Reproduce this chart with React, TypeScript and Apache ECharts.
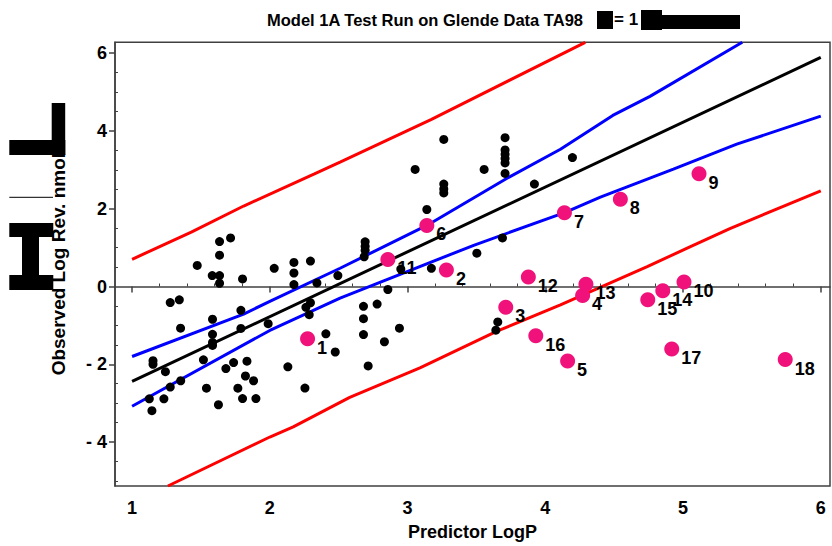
import React, { useEffect, useRef } from "react";
import * as echarts from "echarts";

// ---- axis ranges & ticks ----
const X_MIN = 0.876;
const X_MAX = 6.067;
const Y_MIN = -5.13;
const Y_MAX = 6.28;
const xTicks = [1, 2, 3, 4, 5, 6];
const xMinorTicks = [1.2, 1.4, 1.6, 1.8, 2.2, 2.4, 2.6, 2.8, 3.2, 3.4, 3.6, 3.8, 4.2, 4.4, 4.6, 4.8, 5.2, 5.4, 5.6, 5.8];
const yTicks = [-4, -2, 0, 2, 4, 6];
const yMinorTicks = [-5, -4.5, -3.5, -3, -2.5, -1.5, -1, -0.5, 0.5, 1, 1.5, 2.5, 3, 3.5, 4.5, 5, 5.5];

// ---- training compounds (black) ----
const blackX = [
  1.277, 1.343, 1.473, 1.582, 1.635, 1.635, 1.635, 1.635, 1.715, 1.802,
  1.790, 2.032, 2.175, 2.175, 2.175, 2.295, 2.342, 2.494, 2.262, 2.295,
  2.286, 1.352, 1.584, 1.584, 1.584, 1.584, 1.790, 1.988, 2.407, 2.475,
  1.152, 1.152, 1.242, 1.125, 1.144, 1.231, 1.277, 1.353, 1.518, 1.540,
  1.627, 1.681, 1.737, 1.768, 1.802, 1.823, 1.834, 1.882, 1.899, 2.131,
  2.255, 3.263, 3.055, 3.556, 3.708, 3.708, 3.708, 3.708, 3.708, 3.708,
  4.197, 3.263, 3.263, 3.263, 3.921, 3.140, 2.692, 2.692, 2.692, 2.685,
  2.951, 3.173, 3.689, 3.503, 2.857, 2.680, 2.680, 2.680, 2.779, 2.941,
  2.832, 2.714, 3.655, 3.641,
];
const blackY = [
  -0.413, -0.342, 0.543, 0.281, 0.281, 0.084, 0.806, 1.156, 1.25, 0.194,
  -0.612, 0.467, 0.620, 0.347, 0.051, 0.653, 0.092, 0.281, -0.536, -0.418,
  -0.724, -1.071, -0.842, -1.230, -1.439, -1.515, -1.077, -0.957, -1.217, -1.684,
  -1.906, -2.0, -2.191, -2.888, -3.194, -2.888, -2.587, -2.423, -1.885, -2.615,
  -3.041, -2.110, -1.957, -2.615, -2.883, -2.301, -1.921, -2.423, -2.883, -2.066,
  -2.612, 3.783, 3.010, 3.010, 3.827, 3.510, 3.401, 3.291, 3.179, 2.908,
  3.316, 2.635, 2.508, 2.406, 2.635, 1.980, 1.148, 1.036, 0.934, 0.765,
  0.449, 0.467, 1.25, 0.857, -0.077, -0.510, -0.827, -1.235, -0.452, -1.071,
  -1.421, -2.041, -0.911, -1.122,
];

// ---- test compounds (pink, numbered) ----
const testIds = ["1", "2", "3", "4", "5", "6", "7", "8", "9", "10", "11", "12", "13", "14", "15", "16", "17", "18"];
const testX = [2.274, 3.282, 3.713, 4.271, 4.162, 3.140, 4.139, 4.545, 5.116, 5.007, 2.857, 3.877, 4.295, 4.853, 4.744, 3.931, 4.918, 5.742];
const testY = [-1.344, 0.423, -0.536, -0.230, -1.918, 1.571, 1.895, 2.245, 2.898, 0.117, 0.696, 0.245, 0.059, -0.112, -0.342, -1.268, -1.607, -1.880];

// ---- regression line and bands ----
const regX = [1, 6];
const regY = [-2.44, 5.89];
const confUpX = [1.0, 1.81, 2.0, 2.51, 3.14, 3.71, 4.11, 4.49, 4.76, 5.43];
const confUpY = [-1.80, -0.71, -0.38, 0.47, 1.57, 2.76, 3.53, 4.40, 4.89, 6.28];
const confLoX = [1.0, 2.0, 2.51, 3.48, 4.14, 4.40, 4.93, 5.39, 6.0];
const confLoY = [-3.08, -1.13, -0.30, 1.06, 1.90, 2.30, 3.02, 3.66, 4.38];
const predUpX = [1.0, 1.43, 1.81, 2.32, 2.51, 3.17, 4.29];
const predUpY = [0.70, 1.40, 2.07, 2.89, 3.20, 4.29, 6.28];
const predLoX = [1.26, 2.0, 2.17, 2.58, 3.09, 3.65, 4.11, 4.74, 5.05, 5.34, 6.0];
const predLoY = [-5.13, -3.87, -3.61, -2.85, -2.09, -1.15, -0.47, 0.51, 1.02, 1.49, 2.46];

const FONT = '"Liberation Sans", Arial, sans-serif';
const AXIS_COLOR = "#404040";
const TEXT_COLOR = "#000000";

const zip = (xs: number[], ys: number[]) => xs.map((x, i) => [x, ys[i]]);

const lineSeries = (name: string, xs: number[], ys: number[], color: string) => ({
  name,
  type: "line",
  data: zip(xs, ys),
  showSymbol: false,
  symbol: "none",
  smooth: false,
  lineStyle: { color, width: 3, opacity: 1 },
  z: 2,
});

export default function App() {
  const ref = useRef<HTMLDivElement>(null);

  useEffect(() => {
    if (!ref.current) return;
    const chart = echarts.init(ref.current, null, { renderer: "svg" });
    const tickLabelStyle = { fontFamily: FONT, fontWeight: "bold", fontSize: 18, color: TEXT_COLOR };
    const option = {
      animation: false,
      backgroundColor: "#ffffff",
      grid: {
        left: 115,
        top: 42.3,
        right: 2,
        bottom: 56.7,
        show: true,
        borderColor: AXIS_COLOR,
        borderWidth: 1.5,
        backgroundColor: "transparent",
      },
      xAxis: [
        {
          type: "value",
          min: X_MIN,
          max: X_MAX,
          position: "bottom",
          axisLine: { show: true, lineStyle: { color: AXIS_COLOR, width: 1.5 } },
          axisTick: { show: true, customValues: xTicks, length: 6, lineStyle: { color: AXIS_COLOR, width: 1.5 } },
          axisLabel: { customValues: xTicks, margin: 13, ...tickLabelStyle, formatter: (v: number) => String(v) },
          splitLine: { show: false },
          name: "Predictor LogP",
          nameLocation: "middle",
          nameGap: 37,
          nameTextStyle: { fontFamily: FONT, fontWeight: "bold", fontSize: 18, color: TEXT_COLOR },
        },
        {
          type: "value",
          min: X_MIN,
          max: X_MAX,
          position: "bottom",
          axisLine: { show: false },
          axisTick: { show: true, inside: true, customValues: xMinorTicks, length: 3, lineStyle: { color: AXIS_COLOR, width: 1 } },
          axisLabel: { show: false },
          splitLine: { show: false },
        },
      ],
      yAxis: [
        {
          type: "value",
          min: Y_MIN,
          max: Y_MAX,
          position: "left",
          axisLine: { show: true, lineStyle: { color: AXIS_COLOR, width: 1.5 } },
          axisTick: { show: true, customValues: yTicks, length: 6, lineStyle: { color: AXIS_COLOR, width: 1.5 } },
          axisLabel: {
            customValues: yTicks,
            margin: 8,
            ...tickLabelStyle,
            formatter: (v: number) => (v < 0 ? "- " + Math.abs(v) : String(v)),
          },
          splitLine: { show: false },
          name: "Observed Log Rev. nmol",
          nameLocation: "middle",
          nameRotate: 90,
          nameGap: 47,
          nameTextStyle: { fontFamily: FONT, fontWeight: "bold", fontSize: 19, color: TEXT_COLOR },
        },
        {
          type: "value",
          min: Y_MIN,
          max: Y_MAX,
          position: "left",
          axisLine: { show: false },
          axisTick: { show: true, inside: true, customValues: yMinorTicks, length: 3, lineStyle: { color: AXIS_COLOR, width: 1 } },
          axisLabel: { show: false },
          splitLine: { show: false },
        },
      ],
      series: [
        lineSeries("Prediction upper", predUpX, predUpY, "#ff0000"),
        lineSeries("Prediction lower", predLoX, predLoY, "#ff0000"),
        lineSeries("Confidence upper", confUpX, confUpY, "#0000ff"),
        lineSeries("Confidence lower", confLoX, confLoY, "#0000ff"),
        lineSeries("Regression", regX, regY, "#000000"),
        {
          name: "Training",
          type: "scatter",
          data: zip(blackX, blackY),
          symbol: "circle",
          symbolSize: 9,
          itemStyle: { color: "#000000", opacity: 1 },
          z: 3,
        },
        {
          name: "Test",
          type: "scatter",
          data: testIds.map((id, i) => ({ value: [testX[i], testY[i]], name: id })),
          symbol: "circle",
          symbolSize: 15,
          itemStyle: { color: "#f0117a", opacity: 1 },
          label: {
            show: true,
            position: "right",
            distance: 2,
            offset: [0, 9],
            formatter: (p: any) => p.name,
            fontFamily: FONT,
            fontWeight: "bold",
            fontSize: 18,
            color: TEXT_COLOR,
            opacity: 1,
          },
          z: 4,
        },
      ],
      graphic: [
        {
          type: "text",
          left: 267,
          top: 11,
          style: { text: "Model 1A Test Run on Glende Data TA98", fontFamily: FONT, fontWeight: "bold", fontSize: 16.5, fill: TEXT_COLOR },
        },
        { type: "rect", shape: { x: 597, y: 11, width: 16, height: 18 }, style: { fill: "#000" } },
        {
          type: "text",
          left: 614,
          top: 11,
          style: { text: "= 1", fontFamily: FONT, fontWeight: "bold", fontSize: 17, fill: TEXT_COLOR },
        },
        { type: "rect", shape: { x: 641, y: 10, width: 21, height: 20 }, style: { fill: "#000" } },
        { type: "rect", shape: { x: 662, y: 15, width: 78, height: 14 }, style: { fill: "#000" } },
        // redaction shapes over the y-axis title
        { type: "rect", shape: { x: 51.7, y: 103, width: 13.5, height: 52 }, style: { fill: "#000" }, z: 10 },
        { type: "rect", shape: { x: 9.3, y: 140, width: 56, height: 15 }, style: { fill: "#000" }, z: 10 },
        { type: "line", shape: { x1: 9.3, y1: 197.3, x2: 53, y2: 197.3 }, style: { stroke: "#000", lineWidth: 1 }, z: 10 },
        { type: "rect", shape: { x: 9.3, y: 223, width: 44, height: 14 }, style: { fill: "#000" }, z: 10 },
        { type: "rect", shape: { x: 22, y: 237, width: 17, height: 38 }, style: { fill: "#000" }, z: 10 },
        { type: "rect", shape: { x: 9.3, y: 275, width: 44, height: 15 }, style: { fill: "#000" }, z: 10 },
      ],
    };
    chart.setOption(option as any);
    return () => chart.dispose();
  }, []);

  return (
    <div
      ref={ref}
      style={{ position: "fixed", left: 0, top: 0, width: 832, height: 546, background: "#fff" }}
    />
  );
}
